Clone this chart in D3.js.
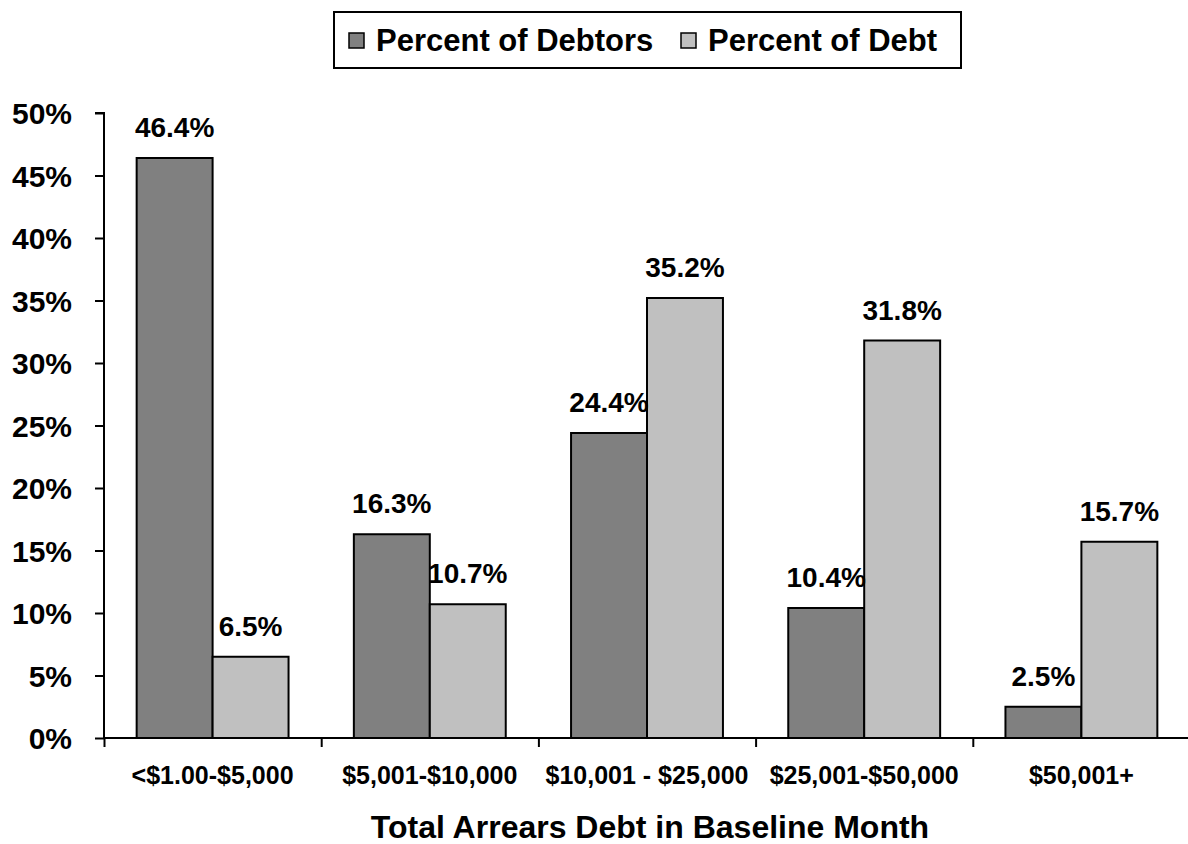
<!DOCTYPE html>
<html><head><meta charset="utf-8">
<script src="https://cdn.jsdelivr.net/npm/d3@7"></script>
<style>
body{margin:0;background:#fff;}
text{font-family:"Liberation Sans",Arial,sans-serif;font-weight:bold;fill:#000;}
</style></head>
<body><svg id="c" width="1188" height="844"></svg>
<script>
const categories = ["<$1.00-$5,000","$5,001-$10,000","$10,001 - $25,000","$25,001-$50,000","$50,001+"];
const seriesNames = ["Percent of Debtors","Percent of Debt"];
const debtors = [46.4, 16.3, 24.4, 10.4, 2.5];
const debt = [6.5, 10.7, 35.2, 31.8, 15.7];
const yTicks = [0,5,10,15,20,25,30,35,40,45,50];
const colors = ["#808080","#c0c0c0"];
const xTitle = "Total Arrears Debt in Baseline Month";

const svg = d3.select("#c");
const x0 = 104, x1 = 1190, yTop = 113, yBot = 738;
const x = d3.scaleBand().domain(categories).range([x0, x1]).paddingInner(0).paddingOuter(0);
const xs = d3.scaleBand().domain(seriesNames).range([0, x.bandwidth()]).paddingInner(0).paddingOuter(0.43);
const y = d3.scaleLinear().domain([0,50]).range([yBot, yTop]);
const series = [debtors, debt];

// bars
series.forEach((vals, si) => {
  svg.append("g").selectAll("rect").data(vals).join("rect")
    .attr("x", (d,i) => x(categories[i]) + xs(seriesNames[si]))
    .attr("y", d => y(d))
    .attr("width", xs.bandwidth())
    .attr("height", d => yBot - y(d))
    .attr("fill", colors[si]).attr("stroke","#000").attr("stroke-width",2);
});
// value labels
series.forEach((vals, si) => {
  svg.append("g").selectAll("text").data(vals).join("text")
    .attr("x", (d,i) => x(categories[i]) + xs(seriesNames[si]) + xs.bandwidth()/2)
    .attr("y", d => y(d) - 21)
    .attr("text-anchor","middle").style("font-size","28px")
    .text(d => d.toFixed(1) + "%");
});

// y axis
const yAxis = svg.append("g").attr("transform",`translate(${x0},0)`)
  .call(d3.axisLeft(y).tickValues(yTicks).tickFormat(d => d + "%").tickSize(9).tickPadding(23));
yAxis.selectAll("text").style("font-size","30px").attr("dy","0.36em");
yAxis.selectAll("line,path").attr("stroke","#000").attr("stroke-width",2);
yAxis.select(".domain").attr("d", `M-9,${yTop}H0V${yBot}`);

// x axis
const xb = d3.scaleLinear().domain([0, categories.length]).range([x0, x1]);
const xAxis = svg.append("g").attr("transform",`translate(0,${yBot})`)
  .call(d3.axisBottom(xb).tickValues(d3.range(categories.length)).tickFormat("").tickSize(9));
xAxis.selectAll("line,path").attr("stroke","#000").attr("stroke-width",2);
xAxis.select(".domain").attr("d", `M${x0},0H${x1}`);

svg.append("g").selectAll("text").data(categories).join("text")
  .attr("x", d => x(d) + x.bandwidth()/2).attr("y", 784)
  .attr("text-anchor","middle").style("font-size","25px").text(d => d);

svg.append("text").attr("x", 650).attr("y", 838).attr("text-anchor","middle")
  .style("font-size","32px").text(xTitle);

// legend
const lg = svg.append("g");
lg.append("rect").attr("x",334).attr("y",12).attr("width",627).attr("height",56)
  .attr("fill","#fff").attr("stroke","#000").attr("stroke-width",2);
const lx = [349, 681];
seriesNames.forEach((s, i) => {
  lg.append("rect").attr("x", lx[i]).attr("y", 33).attr("width",15).attr("height",15)
    .attr("fill", colors[i]).attr("stroke","#000").attr("stroke-width",1.5);
  lg.append("text").attr("x", lx[i] + 27).attr("y", 51).style("font-size","31px").text(s);
});
</script></body></html>
